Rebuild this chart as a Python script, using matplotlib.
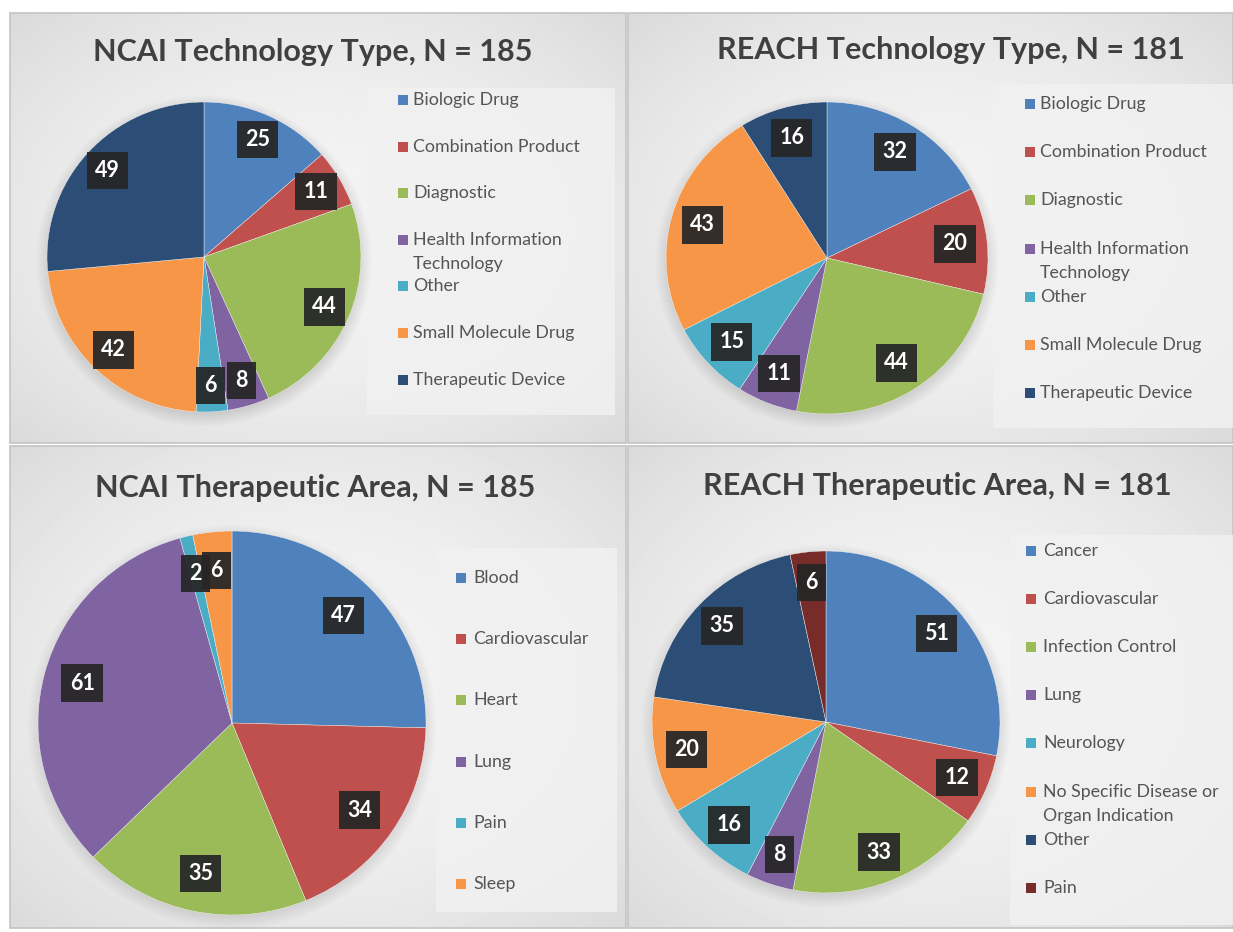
import numpy as np
import matplotlib
matplotlib.use("Agg")
import matplotlib.pyplot as plt
from matplotlib.patches import Rectangle

# ---------------- data ----------------
tech_labels = ["Biologic Drug", "Combination Product", "Diagnostic",
               "Health Information\nTechnology", "Other", "Small Molecule Drug",
               "Therapeutic Device"]
ncai_tech_values = [25, 11, 44, 8, 6, 42, 49]
reach_tech_values = [32, 20, 44, 11, 15, 43, 16]

ncai_ther_labels = ["Blood", "Cardiovascular", "Heart", "Lung", "Pain", "Sleep"]
ncai_ther_values = [47, 34, 35, 61, 2, 6]

reach_ther_labels = ["Cancer", "Cardiovascular", "Infection Control", "Lung",
                     "Neurology", "No Specific Disease or\nOrgan Indication",
                     "Other", "Pain"]
reach_ther_values = [51, 12, 33, 8, 16, 20, 35, 6]

titles = ["NCAI Technology Type, N = 185", "REACH Technology Type, N = 181",
          "NCAI Therapeutic Area, N = 185", "REACH Therapeutic Area, N = 181"]

# ---------------- style ----------------
BLUE, RED, GREEN, PURPLE = "#4F81BD", "#C0504D", "#9BBB59", "#8064A2"
AQUA, ORANGE, NAVY, DRED = "#4BACC6", "#F79646", "#2C4D75", "#772C2A"
tech_colors = [BLUE, RED, GREEN, PURPLE, AQUA, ORANGE, NAVY]
ncai_ther_colors = [BLUE, RED, GREEN, PURPLE, AQUA, ORANGE]
reach_ther_colors = [BLUE, RED, GREEN, PURPLE, AQUA, ORANGE, NAVY, DRED]

W, H = 1233, 932
FONT = ["Lato", "DejaVu Sans"]
fig = plt.figure(figsize=(W / 100, H / 100), dpi=100)
fig.patch.set_facecolor("white")

bg = fig.add_axes([0, 0, 1, 1])
bg.set_xlim(0, W)
bg.set_ylim(H, 0)
bg.axis("off")

# panels: (x0, y0, x1, y1)
panels = [(10, 13, 626, 443), (628, 13, W, 443),
          (10, 446, 626, 928), (628, 446, W, 928)]


def gradient(nx, ny):
    x = np.linspace(-1, 1, nx)
    y = np.linspace(-1, 1, ny)
    X, Y = np.meshgrid(x, y)
    r2 = (X ** 2 + Y ** 2) / 2
    return 0.955 - 0.10 * r2


for (x0, y0, x1, y1) in panels:
    g = gradient(200, 160)
    bg.imshow(g, extent=(x0, x1, y1, y0), cmap="gray", vmin=0, vmax=1,
              interpolation="bicubic", zorder=0)
    bg.add_patch(Rectangle((x0, y0), x1 - x0, y1 - y0, fill=False,
                           ec="#c4c4c4", lw=1.2, zorder=1))
bg.set_xlim(0, W)
bg.set_ylim(H, 0)
bg.set_aspect("auto")

# legend boxes (x0, y0, x1, y1)
legend_boxes = [(367, 88, 615, 415), (993, 84, W, 428),
                (436, 548, 617, 912), (1010, 535, W, 925)]
for (x0, y0, x1, y1) in legend_boxes:
    bg.add_patch(Rectangle((x0, y0), x1 - x0, y1 - y0, fc="#f1f1f1",
                           ec="none", alpha=0.85, zorder=2))

# titles
title_pos = [(313, 52), (951, 50), (315, 488), (937, 486)]
for t, (tx, ty) in zip(titles, title_pos):
    bg.text(tx, ty, t, ha="center", va="center", fontsize=22,
            fontweight="bold", color="#404040", family=FONT, zorder=3)

# legends: marker x, text x, first y, step
legend_specs = [
    (tech_labels, tech_colors, 403, 413, 100, 46.6),
    (tech_labels, tech_colors, 1030, 1040, 104, 48.2),
    (ncai_ther_labels, ncai_ther_colors, 461, 473, 578, 61.2),
    (reach_ther_labels, reach_ther_colors, 1031, 1043, 551, 48.1),
]
for labels, colors, mx, tx, y0, step in legend_specs:
    for i, (lab, col) in enumerate(zip(labels, colors)):
        y = y0 + i * step
        bg.add_patch(Rectangle((mx - 5, y - 5), 10, 10, fc=col, ec="none",
                               zorder=3))
        for k, line in enumerate(lab.split("\n")):
            bg.text(tx, y + 24 * k, line, ha="left", va="center",
                    fontsize=12.8, color="#555555", family=FONT, zorder=3)

# pies: center x, center y, rx, ry, label distance
pie_specs = [
    (ncai_tech_values, tech_colors, 204, 257, 157, 155, 0.83),
    (reach_tech_values, tech_colors, 827, 258, 161, 156, 0.8),
    (ncai_ther_values, ncai_ther_colors, 232, 723, 194, 192, 0.8),
    (reach_ther_values, reach_ther_colors, 826, 722, 174, 171, 0.82),
]
for vals, cols, cx, cy, rx, ry, ld in pie_specs:
    # soft shadow
    sh = fig.add_axes([(cx - rx - 12) / W, 1 - (cy + ry + 16) / H,
                       (2 * rx + 24) / W, (2 * ry + 24) / H])
    sh.axis("off")
    xs = np.linspace(-1, 1, 200)
    X, Y = np.meshgrid(xs, xs)
    R = np.sqrt(X ** 2 + Y ** 2)
    a = np.clip((1 - R) / 0.12, 0, 1) * 0.35
    img = np.zeros((200, 200, 4))
    img[..., 0:3] = 0.45
    img[..., 3] = a
    sh.imshow(img, extent=(-1, 1, -1, 1), interpolation="bilinear")
    sh.set_aspect("auto")

    ax = fig.add_axes([(cx - rx) / W, 1 - (cy + ry) / H, 2 * rx / W, 2 * ry / H])
    wedges, _ = ax.pie(vals, colors=cols, startangle=90, counterclock=False,
                       radius=1, wedgeprops=dict(edgecolor="#f4f4f4", linewidth=0.3))
    ax.set_xlim(-1, 1)
    ax.set_ylim(-1, 1)
    ax.set_aspect("auto")
    ax.axis("off")
    for w, v in zip(wedges, vals):
        mid = np.deg2rad((w.theta1 + w.theta2) / 2)
        ax.text(ld * np.cos(mid), ld * np.sin(mid), str(v), ha="center",
                va="center", fontsize=15.5, fontweight="bold", color="white",
                family=FONT,
                bbox=dict(boxstyle="square,pad=0.38", fc="#262626", ec="none",
                          alpha=0.93))

fig.savefig("out.png", dpi=100, facecolor="white")
